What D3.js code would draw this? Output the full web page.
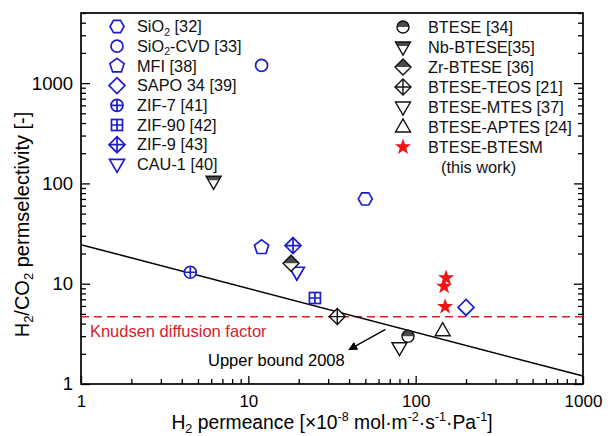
<!DOCTYPE html>
<html>
<head>
<meta charset="utf-8">
<script src="https://cdn.jsdelivr.net/npm/d3@7/dist/d3.min.js"></script>
<style>
  html, body { margin: 0; padding: 0; background: #fff; }
  svg { display: block; font-family: "Liberation Sans", Arial, Helvetica, sans-serif; }
</style>
</head>
<body>
<svg id="chart" width="608" height="436"></svg>
<script>
// H2 permeance (1e-8 mol m-2 s-1 Pa-1) vs H2/CO2 permselectivity, one array per membrane
const sio2       = [[50, 70]];
const sio2Cvd    = [[12, 1500]];
const mfi        = [[12, 23]];
const sapo34     = [[200, 5.8]];
const zif7       = [[4.5, 13]];
const zif90      = [[25, 7.2]];
const zif9       = [[18.5, 24]];
const cau1       = [[19.5, 13]];
const btese      = [[90, 3.0]];
const nbBtese    = [[6.2, 105]];
const zrBtese    = [[18, 16]];
const bteseTeos  = [[34, 4.7]];
const bteseMtes  = [[80, 2.3]];
const bteseAptes = [[145, 3.4]];
const bteseBtesm = [[152, 11.4], [148, 9.4], [150, 5.9]];

// Robeson 2008 upper bound end points and the Knudsen selectivity sqrt(44/2)
const upperBound = [[1, 24.5], [1000, 1.2]];
const knudsenFactor = 4.69;

// axis ticks
const xMajorTicks = [1, 10, 100, 1000];
const yMajorTicks = [1, 10, 100, 1000];

const BLUE = "#1d1dcc", BLACK = "#111", DARK = "#4a4a4a", RED = "#f01414", KRED = "#d3222c";

// legend columns: [label parts, data, symbol, colour]
const leftLegend = [
  [[["SiO"], ["2", "sub"], [" [32]"]], sio2, "hexagon", BLUE],
  [[["SiO"], ["2", "sub"], ["-CVD [33]"]], sio2Cvd, "circle", BLUE],
  [[["MFI [38]"]], mfi, "pentagon", BLUE],
  [[["SAPO 34 [39]"]], sapo34, "diamond", BLUE],
  [[["ZIF-7 [41]"]], zif7, "circlePlus", BLUE],
  [[["ZIF-90 [42]"]], zif90, "squarePlus", BLUE],
  [[["ZIF-9 [43]"]], zif9, "diamondPlus", BLUE],
  [[["CAU-1 [40]"]], cau1, "triDown", BLUE]
];
const rightLegend = [
  [[["BTESE [34]"]], btese, "circleHalf", BLACK],
  [[["Nb-BTESE[35]"]], nbBtese, "triDownHalf", BLACK],
  [[["Zr-BTESE [36]"]], zrBtese, "diamondHalf", BLACK],
  [[["BTESE-TEOS [21]"]], bteseTeos, "diamondPlus", BLACK],
  [[["BTESE-MTES [37]"]], bteseMtes, "triDown", BLACK],
  [[["BTESE-APTES [24]"]], bteseAptes, "triUp", BLACK],
  [[["BTESE-BTESM"]], bteseBtesm, "star", RED]
];

const svg = d3.select("#chart");
const L = 81, R = 583, T = 13, B = 384;
const x = d3.scaleLog().domain([1, 1000]).range([L, R]);
const y = d3.scaleLog().domain([1, 5000]).range([B, T]);

const minorOf = (lo, hi) => {
  const out = [];
  for (let d = 1; d < hi; d *= 10)
    for (let k = 2; k <= 9; k++) if (d * k <= hi && d * k >= lo) out.push(d * k);
  return out;
};
const xMinor = minorOf(1, 1000);
const yMinor = minorOf(1, 5000);

// ticks point into the plot area
function styleAxis(g) {
  g.select(".domain").remove();
  g.selectAll(".tick line").attr("stroke", "#000").attr("stroke-width", 1.3);
}
svg.append("g").attr("transform", `translate(0,${B})`)
  .call(d3.axisBottom(x).tickValues(xMinor).tickSize(-5).tickFormat(""))
  .call(styleAxis);
svg.append("g").attr("transform", `translate(0,${B})`)
  .call(d3.axisBottom(x).tickValues(xMajorTicks).tickSize(-8).tickPadding(10.5).tickFormat(d3.format("d")))
  .call(styleAxis)
  .call(g => g.selectAll("text").attr("font-size", 17).attr("fill", "#000").attr("font-family", null));

svg.append("g").attr("transform", `translate(${L},0)`)
  .call(d3.axisLeft(y).tickValues(yMinor).tickSize(-5).tickFormat(""))
  .call(styleAxis);
svg.append("g").attr("transform", `translate(${L},0)`)
  .call(d3.axisLeft(y).tickValues(yMajorTicks).tickSize(-9).tickPadding(8).tickFormat(d3.format("d")))
  .call(styleAxis)
  .call(g => g.selectAll("text").attr("font-size", 18.5).attr("fill", "#000").attr("font-family", null));

svg.append("g").attr("transform", `translate(${R},0)`)
  .call(d3.axisRight(y).tickValues(yMinor).tickSize(-5).tickFormat(""))
  .call(styleAxis);
svg.append("g").attr("transform", `translate(${R},0)`)
  .call(d3.axisRight(y).tickValues(yMajorTicks).tickSize(-9).tickFormat(""))
  .call(styleAxis);

// plot frame
svg.append("rect").attr("x", L).attr("y", T).attr("width", R - L).attr("height", B - T)
  .attr("fill", "none").attr("stroke", "#000").attr("stroke-width", 1.7);

// Knudsen diffusion line
svg.append("line")
  .attr("x1", x(1)).attr("x2", x(1000))
  .attr("y1", y(knudsenFactor)).attr("y2", y(knudsenFactor))
  .attr("stroke", KRED).attr("stroke-width", 1.5).attr("stroke-dasharray", "8,5");
svg.append("text").attr("x", x(1.13)).attr("y", y(3.39)).attr("dy", "0.35em")
  .attr("font-size", 16.5).attr("fill", KRED).text("Knudsen diffusion factor");

// upper bound
svg.append("path")
  .attr("d", d3.line().x(d => x(d[0])).y(d => y(d[1]))(upperBound))
  .attr("fill", "none").attr("stroke", "#000").attr("stroke-width", 1.5);

svg.append("defs").append("marker")
  .attr("id", "arrowHead").attr("viewBox", "0 0 10 10").attr("refX", 9).attr("refY", 5)
  .attr("markerWidth", 9).attr("markerHeight", 9).attr("markerUnits", "userSpaceOnUse")
  .attr("orient", "auto")
  .append("path").attr("d", "M0,0 L10,5 L0,10 Z").attr("fill", "#000");
svg.append("line")
  .attr("x1", x(66)).attr("y1", y(3.5)).attr("x2", x(40)).attr("y2", y(2.2))
  .attr("stroke", "#000").attr("stroke-width", 1.4).attr("marker-end", "url(#arrowHead)");
svg.append("text").attr("x", x(5.74)).attr("y", y(1.74)).attr("dy", "0.35em")
  .attr("font-size", 16.5).attr("fill", "#000").text("Upper bound 2008");

// symbol drawing
function poly(pts) { return "M" + pts.map(p => p.join(",")).join("L") + "Z"; }
function ngon(n, r, start) {
  const pts = [];
  for (let i = 0; i < n; i++) {
    const a = start + i * 2 * Math.PI / n;
    pts.push([r * Math.cos(a), r * Math.sin(a)]);
  }
  return pts;
}
const triDownPts = [[-7.5, -5], [7.5, -5], [0, 8]];
const diamondPts = [[0, -8], [8, 0], [0, 8], [-8, 0]];
function drawSymbol(g, sym, color) {
  const sw = color === BLUE ? 1.7 : 1.4;
  const st = el => el.attr("stroke", color).attr("stroke-width", sw).attr("stroke-linejoin", "miter");
  switch (sym) {
    case "hexagon":
      st(g.append("path").attr("d", poly(ngon(6, 7, 0))).attr("fill", "#fff")); break;
    case "circle":
      st(g.append("circle").attr("r", 6).attr("fill", "#fff")); break;
    case "pentagon":
      st(g.append("path").attr("d", poly(ngon(5, 7.5, -Math.PI / 2))).attr("fill", "#fff")); break;
    case "diamond":
      st(g.append("path").attr("d", poly(diamondPts)).attr("fill", "#fff")); break;
    case "circlePlus":
      st(g.append("circle").attr("r", 6).attr("fill", "#fff"));
      st(g.append("path").attr("d", "M-6,0H6M0,-6V6").attr("fill", "none")); break;
    case "squarePlus":
      st(g.append("rect").attr("x", -5.5).attr("y", -5.5).attr("width", 11).attr("height", 11).attr("fill", "#fff"));
      st(g.append("path").attr("d", "M-5.5,0H5.5M0,-5.5V5.5").attr("fill", "none")); break;
    case "diamondPlus":
      st(g.append("path").attr("d", poly(diamondPts)).attr("fill", "#fff"));
      st(g.append("path").attr("d", "M-8,0H8M0,-8V8").attr("fill", "none")); break;
    case "triDown":
      st(g.append("path").attr("d", poly(triDownPts)).attr("fill", "#fff")); break;
    case "triUp":
      st(g.append("path").attr("d", poly([[-7.5, 5], [7.5, 5], [0, -8]])).attr("fill", "#fff")); break;
    case "circleHalf":
      g.append("circle").attr("r", 6).attr("fill", "#fff");
      g.append("path").attr("d", "M-6,0A6,6 0 0 1 6,0Z").attr("fill", DARK);
      st(g.append("circle").attr("r", 6).attr("fill", "none")); break;
    case "triDownHalf":
      g.append("path").attr("d", poly(triDownPts)).attr("fill", "#fff");
      // dark band across the wide top of the triangle
      g.append("path").attr("d", poly([[-7.5, -5], [7.5, -5], [5.2, -1], [-5.2, -1]])).attr("fill", DARK);
      st(g.append("path").attr("d", poly(triDownPts)).attr("fill", "none")); break;
    case "diamondHalf":
      g.append("path").attr("d", poly(diamondPts)).attr("fill", "#fff");
      g.append("path").attr("d", poly([[-8, 0], [0, -8], [8, 0]])).attr("fill", DARK);
      st(g.append("path").attr("d", poly(diamondPts)).attr("fill", "none")); break;
    case "star": {
      const pts = [];
      for (let i = 0; i < 10; i++) {
        const r = i % 2 ? 3.4 : 8.5, a = -Math.PI / 2 + i * Math.PI / 5;
        pts.push([r * Math.cos(a), r * Math.sin(a)]);
      }
      g.append("path").attr("d", poly(pts)).attr("fill", color);
      break;
    }
  }
}

// text runs with sub/superscripts, offsets in pixels so they never accumulate
function richText(sel, parts, fs) {
  const shift = { sub: 0.22 * fs, sup: -0.42 * fs };
  let cur = 0;
  parts.forEach(([txt, kind]) => {
    const target = kind ? shift[kind] : 0;
    const t = sel.append("tspan").attr("dy", target - cur).text(txt);
    if (kind) t.attr("font-size", 0.65 * fs);
    cur = target;
  });
}

// data points
const plot = svg.append("g");
[...leftLegend, ...rightLegend].forEach(([, data, sym, color]) => {
  data.forEach(d => {
    const g = plot.append("g").attr("transform", `translate(${x(d[0])},${y(d[1])})`);
    drawSymbol(g, sym, color);
  });
});

// legends
const LFS = 16.3;
function legend(items, mx, tx, y0, step) {
  items.forEach(([parts, , sym, color], i) => {
    const yy = y0 + i * step;
    drawSymbol(svg.append("g").attr("transform", `translate(${mx},${yy})`), sym, color);
    const t = svg.append("text").attr("x", tx).attr("y", yy + 0.35 * LFS)
      .attr("font-size", LFS).attr("fill", "#111");
    richText(t, parts, LFS);
  });
}
legend(leftLegend, 117, 137, 26.5, 19.7);
legend(rightLegend, 403, 428, 27, 20);
svg.append("text").attr("x", 441).attr("y", 27 + 7 * 20 + 0.35 * LFS)
  .attr("font-size", LFS).attr("fill", "#111").text("(this work)");

// axis titles
const XFS = 19.3;
const xt = svg.append("text").attr("x", (L + R) / 2).attr("y", 429).attr("text-anchor", "middle")
  .attr("font-size", XFS).attr("fill", "#000");
richText(xt, [["H"], ["2", "sub"], [" permeance [×10"], ["-8", "sup"], [" mol·m"], ["-2", "sup"],
  ["·s"], ["-1", "sup"], ["·Pa"], ["-1", "sup"], ["]"]], XFS);

const YFS = 20;
const yt = svg.append("text").attr("transform", `translate(29,${(T + B) / 2 + 26}) rotate(-90)`)
  .attr("text-anchor", "middle").attr("font-size", YFS).attr("fill", "#000");
richText(yt, [["H"], ["2", "sub"], ["/CO"], ["2", "sub"], [" permselectivity [-]"]], YFS);
</script>
</body>
</html>
